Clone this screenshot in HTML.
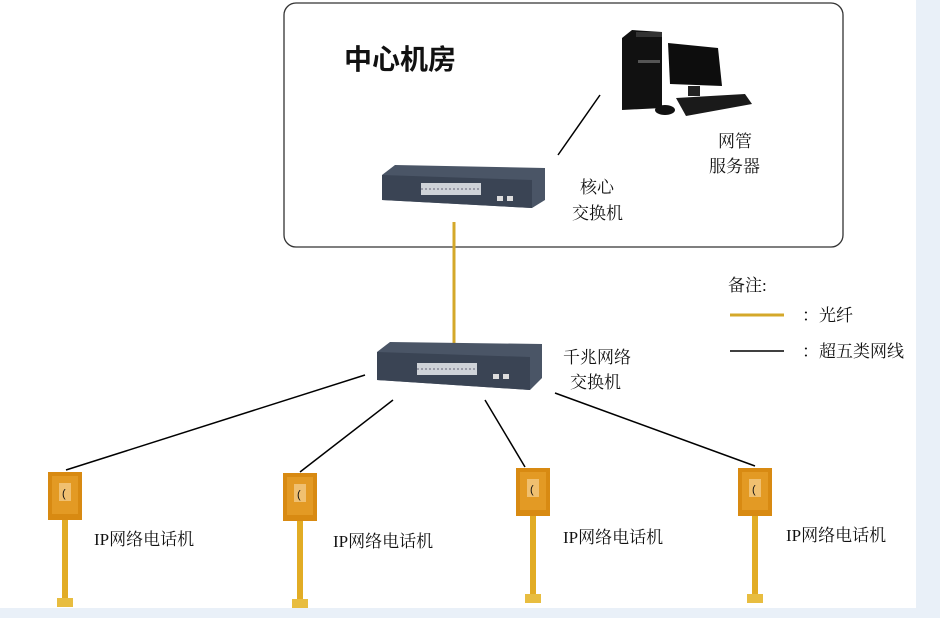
<!DOCTYPE html>
<html><head><meta charset="utf-8"><style>
body{margin:0;background:#e9f0f8;}
svg{display:block}
text{font-family:"Liberation Serif","Noto Serif CJK SC","Noto Sans CJK SC",serif;fill:#111}
</style></head><body>
<svg width="940" height="618" viewBox="0 0 940 618">
<rect x="0" y="0" width="940" height="618" fill="#e9f0f8"/>
<rect x="0" y="0" width="916" height="608" fill="#fff"/>
<rect x="284" y="3" width="559" height="244" rx="12" fill="none" stroke="#333" stroke-width="1.3"/>
<text x="344" y="69" font-size="28" font-weight="bold" style="font-family:'Noto Sans CJK SC',sans-serif">中心机房</text>
<!-- computer -->
<polygon points="622,38 632,30 662,32 662,108 622,110" fill="#111"/>
<rect x="636" y="32" width="26" height="5" fill="#333"/>
<rect x="638" y="60" width="22" height="3" fill="#555"/>
<polygon points="668,43 718,48 722,86 670,84" fill="#0d0d0d"/>
<rect x="688" y="86" width="12" height="10" fill="#222"/>
<polygon points="676,98 745,94 752,104 686,116" fill="#1a1a1a"/>
<ellipse cx="665" cy="110" rx="10" ry="5" fill="#111"/>
<line x1="600" y1="95" x2="558" y2="155" stroke="#000" stroke-width="1.5"/>
<text x="718" y="147" font-size="17">网管</text>
<text x="709" y="172" font-size="17">服务器</text>
<!-- core switch -->
<polygon points="382,175 395,165 545,168 545,200 532,208 382,200" fill="#4a5566"/>
<polygon points="382,175 532,180 532,208 382,200" fill="#3a4454"/>
<rect x="421" y="183" width="60" height="12" fill="#cfd3d8"/>
<line x1="421" y1="189" x2="481" y2="189" stroke="#667" stroke-width="1" stroke-dasharray="2,2"/>
<rect x="497" y="196" width="6" height="5" fill="#ddd"/><rect x="507" y="196" width="6" height="5" fill="#ddd"/>
<text x="580" y="193" font-size="17">核心</text>
<text x="572" y="219" font-size="17">交换机</text>
<!-- fiber -->
<line x1="454" y1="222" x2="454" y2="343" stroke="#d4a82a" stroke-width="3"/>
<!-- lower switch -->
<polygon points="377,352 390,342 542,344 542,378 530,390 377,380" fill="#4a5566"/>
<polygon points="377,352 530,357 530,390 377,380" fill="#3a4454"/>
<rect x="417" y="363" width="60" height="12" fill="#cfd3d8"/>
<line x1="417" y1="369" x2="477" y2="369" stroke="#667" stroke-width="1" stroke-dasharray="2,2"/>
<rect x="493" y="374" width="6" height="5" fill="#ddd"/><rect x="503" y="374" width="6" height="5" fill="#ddd"/>
<text x="563" y="363" font-size="17">千兆网络</text>
<text x="570" y="388" font-size="17">交换机</text>
<!-- legend -->
<text x="728" y="291" font-size="17">备注:</text>
<line x1="730" y1="315" x2="784" y2="315" stroke="#d4a82a" stroke-width="3"/>
<text x="802" y="321" font-size="17">：光纤</text>
<line x1="730" y1="351" x2="784" y2="351" stroke="#000" stroke-width="1.5"/>
<text x="802" y="357" font-size="17">：超五类网线</text>
<!-- lines to phones -->
<g stroke="#000" stroke-width="1.5">
<line x1="365" y1="375" x2="66" y2="470"/>
<line x1="393" y1="400" x2="300" y2="472"/>
<line x1="485" y1="400" x2="525" y2="467"/>
<line x1="555" y1="393" x2="755" y2="466"/>
</g>
<defs><g id="ph">
<rect x="0" y="0" width="34" height="48" fill="#d88a12"/>
<rect x="4" y="4" width="26" height="38" fill="#e39a24"/>
<rect x="11" y="11" width="12" height="18" fill="#f0c070"/>
<text x="14" y="25" font-size="11" style="font-family:sans-serif">(</text>
<rect x="14" y="48" width="6" height="78" fill="#e2ac24"/>
<rect x="9" y="126" width="16" height="9" fill="#e8bd40"/>
</g></defs>
<use href="#ph" x="48" y="472"/>
<use href="#ph" x="283" y="473"/>
<use href="#ph" x="516" y="468"/>
<use href="#ph" x="738" y="468"/>
<text x="94" y="545" font-size="17">IP网络电话机</text>
<text x="333" y="547" font-size="17">IP网络电话机</text>
<text x="563" y="543" font-size="17">IP网络电话机</text>
<text x="786" y="541" font-size="17">IP网络电话机</text>
</svg>
</body></html>
